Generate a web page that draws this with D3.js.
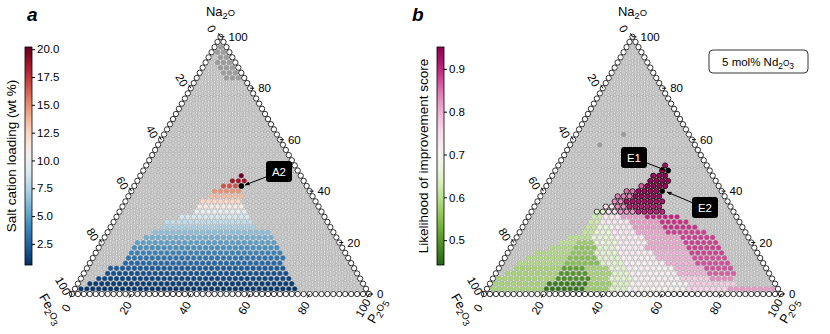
<!DOCTYPE html>
<html lang="en">
  <head>
    <meta charset="UTF-8"/>
    <title>Ternary maps</title>
    <script src="https://d3js.org/d3.v7.min.js"></script>
    <style>
      body { margin: 0; background: #fff; }
      text { font-family: "Liberation Sans", Arial, sans-serif; font-size: 11.5px; }
      .title { font-size: 13px; }
      .cblabel { font-size: 13.5px; }
      .panel { font-size: 19px; font-weight: bold; font-style: italic; }
    </style>
  </head>
  <body>
    <script>

      const N = 50                       // 2 mol% lattice
      const ticks = [0, 20, 40, 60, 80, 100]

      // panel a : one entry per Na2O row (row 1 = first interior row above the Fe2O3-P2O5 edge)
      const aRow  = [1, 2, 3, 4, 5, 6, 7, 8, 9, 10, 11, 12, 13, 14, 15, 16, 17, 18, 19, 20, 21, 22, 23]
      const aFrom = [1, 2, 3, 4, 4, 6, 6, 6, 6, 6, 7, 8, 9, 9, 11, 13, 13, 13, 14, 14, 15, 16, 17]
      const aTo   = [37, 36, 35, 34, 33, 32, 32, 31, 30, 29, 28, 27, 24, 23, 22, 21, 20, 19, 19, 18, 17, 18, 17]
      const aLoad = [0.8, 1.1, 1.4, 1.8, 2.2, 2.7, 3.2, 3.8, 4.4, 5.0, 5.7, 6.4, 7.2, 8.0, 8.9, 9.9, 11.0, 12.2, 13.4, 14.8, 16.6, 18.6, 20.0]
      const aMarked = [[21, 18, "A2"]]
      const aDark = [[48, 1, 1], [47, 1, 2], [46, 2, 3], [45, 2, 4], [44, 3, 5], [43, 4, 6], [42, 5, 7]]
      const aTicks = [2.5, 5.0, 7.5, 10.0, 12.5, 15.0, 17.5, 20.0]
      const aDomain = [0.6, 20.2]

      // panel b : [row, first column, last column, score]
      const bSeg = [
        [1, 1, 9, 0.58], [1, 10, 16, 0.46], [1, 17, 20, 0.57], [1, 21, 23, 0.64], [1, 24, 33, 0.70], [1, 34, 40, 0.76], [1, 41, 48, 0.82],
        [2, 1, 9, 0.58], [2, 10, 16, 0.47], [2, 17, 20, 0.57], [2, 21, 23, 0.64], [2, 24, 33, 0.70], [2, 34, 41, 0.77],
        [3, 1, 10, 0.58], [3, 11, 16, 0.49], [3, 17, 19, 0.58], [3, 20, 23, 0.65], [3, 24, 31, 0.71], [3, 32, 36, 0.77], [3, 37, 40, 0.83],
        [4, 2, 10, 0.58], [4, 11, 15, 0.50], [4, 16, 19, 0.58], [4, 20, 22, 0.65], [4, 23, 30, 0.71], [4, 31, 35, 0.80], [4, 36, 40, 0.86],
        [5, 3, 10, 0.58], [5, 11, 14, 0.51], [5, 15, 18, 0.58], [5, 19, 21, 0.65], [5, 22, 29, 0.71], [5, 30, 34, 0.80], [5, 35, 39, 0.87],
        [6, 3, 10, 0.59], [6, 11, 16, 0.55], [6, 17, 20, 0.65], [6, 21, 27, 0.71], [6, 28, 32, 0.80], [6, 33, 38, 0.87],
        [7, 4, 10, 0.59], [7, 11, 15, 0.55], [7, 16, 19, 0.65], [7, 20, 25, 0.71], [7, 26, 31, 0.80], [7, 32, 37, 0.87],
        [8, 5, 10, 0.59], [8, 11, 14, 0.56], [8, 15, 18, 0.65], [8, 19, 24, 0.72], [8, 25, 30, 0.80], [8, 31, 36, 0.88],
        [9, 7, 10, 0.59], [9, 11, 14, 0.56], [9, 15, 17, 0.65], [9, 18, 22, 0.72], [9, 23, 29, 0.81], [9, 30, 35, 0.88],
        [10, 8, 10, 0.60], [10, 11, 13, 0.57], [10, 14, 17, 0.66], [10, 18, 22, 0.72], [10, 23, 28, 0.81], [10, 29, 34, 0.88],
        [11, 9, 12, 0.60], [11, 13, 16, 0.66], [11, 17, 21, 0.72], [11, 22, 27, 0.81], [11, 28, 33, 0.88],
        [12, 11, 12, 0.61], [12, 13, 15, 0.66], [12, 16, 19, 0.73], [12, 20, 24, 0.81], [12, 25, 31, 0.88],
        [13, 11, 12, 0.61], [13, 13, 15, 0.67], [13, 16, 18, 0.73], [13, 19, 23, 0.82], [13, 24, 29, 0.89],
        [14, 11, 12, 0.62], [14, 13, 17, 0.73], [14, 18, 22, 0.82], [14, 23, 27, 0.89],
        [15, 11, 12, 0.62], [15, 13, 15, 0.73], [15, 16, 19, 0.82], [15, 20, 25, 0.90],
        [16, 11, 12, 0.65], [16, 13, 14, 0.73], [16, 15, 17, 0.82], [16, 18, 22, 0.90],
        [17, 12, 13, 0.73], [17, 14, 15, 0.83], [17, 16, 21, 0.91],
        [18, 13, 14, 0.83], [18, 15, 21, 0.92],
        [19, 13, 15, 0.84], [19, 16, 20, 0.93],
        [20, 14, 15, 0.85], [20, 16, 19, 0.93],
        [21, 16, 16, 0.86], [21, 17, 20, 0.94],
        [22, 17, 20, 0.94],
        [23, 17, 19, 0.94],
        [24, 18, 18, 0.94],
        [25, 18, 18, 0.93]
      ]
      const bRing = [16, 25]               // rows whose cells carry a black ring
      const bMarked = [[20, 20, "E2"], [24, 19, "E1"]]
      const bDark = [[29, 5, 5], [31, 8, 8]]
      const bTicks = [0.5, 0.6, 0.7, 0.8, 0.9]
      const bDomain = [0.442, 0.951]

      const side = 297, x0 = 72, yBase = 294, h = Math.sqrt(3) / 2
      const step = side / N

      const svg = d3.select("body").append("svg")
          .attr("width", 830)
          .attr("height", 334)

      const colorA = d3.scaleSequential(t => d3.interpolateRdBu(1 - t)).domain(aDomain)
      const colorB = d3.scaleSequential(t => d3.interpolatePiYG(1 - t)).domain(bDomain)

      const key = (r, c) => r + "," + c
      const aMap = new Map()
      aRow.forEach((r, i) => {
        for (let c = aFrom[i]; c <= aTo[i]; c++) aMap.set(key(r, c), aLoad[i])
      })
      const bMap = new Map()
      bSeg.forEach(([r, c0, c1, v]) => {
        for (let c = c0; c <= c1; c++) bMap.set(key(r, c), v)
      })
      const rangeSet = list => {
        const s = new Set()
        list.forEach(([r, c0, c1]) => { for (let c = c0; c <= c1; c++) s.add(key(r, c)) })
        return s
      }

      const sub = (sel, parts) => {
        parts.forEach(([t, s]) => {
          sel.append("tspan")
            .attr("font-size", s ? "0.72em" : null)
            .attr("dy", s === 1 ? 3 : s === -1 ? -3 : 0)
            .text(t)
        })
      }

      function ternary(ox, valueMap, color, marked, dark, ring) {
        const g = svg.append("g").attr("transform", `translate(${ox},0)`)
        const L = [x0, yBase], R = [x0 + side, yBase], T = [x0 + side / 2, yBase - side * h]
        const markSet = new Set(marked.map(d => key(d[0], d[1])))
        const darkSet = rangeSet(dark)

        g.append("path")
          .attr("d", `M${L}L${R}L${T}Z`)
          .attr("fill", "none")
          .attr("stroke", "#000")
          .attr("stroke-width", 0.8)

        const pts = []
        for (let r = 0; r <= N; r++) {
          for (let c = 0; c <= N - r; c++) {
            const k = key(r, c)
            pts.push({r, c, edge: r === 0 || c === 0 || c === N - r, v: valueMap.get(k),
                      mark: markSet.has(k), dark: darkSet.has(k)})
          }
        }
        const fill = d => d.edge ? "#fff" : d.mark ? "#000" : d.v !== undefined ? color(d.v)
                        : d.dark ? "#9d9d9d" : "#c9c9c9"
        const ringed = d => ring && d.v !== undefined && d.r >= ring[0] && d.r <= ring[1]
        g.append("g").selectAll("circle")
          .data(pts)
          .join("circle")
            .attr("cx", d => x0 + (d.c + d.r / 2) * step)
            .attr("cy", d => yBase - d.r * step * h)
            .attr("r", step * 0.45)
            .attr("fill", fill)
            .attr("stroke", d => d.edge || d.mark || ringed(d) ? "#000" : "#9a9a9a")
            .attr("stroke-width", d => d.edge ? 0.8 : ringed(d) ? 0.8 : 0.55)

        // right edge : Na2O
        ticks.forEach(v => {
          const f = v / 100
          const px = R[0] + (T[0] - R[0]) * f, py = R[1] + (T[1] - R[1]) * f
          g.append("line").attr("x1", px).attr("y1", py).attr("x2", px + 4).attr("y2", py).attr("stroke", "#000")
          g.append("text").attr("x", px + 8).attr("y", py).attr("dy", "0.35em").text(v)
        })
        // left edge : Fe2O3
        ticks.forEach(v => {
          const f = v / 100
          const px = T[0] + (L[0] - T[0]) * f, py = T[1] + (L[1] - T[1]) * f
          g.append("line").attr("x1", px).attr("y1", py).attr("x2", px - 2).attr("y2", py - 3.5).attr("stroke", "#000")
          g.append("text")
            .attr("transform", `translate(${px - 9},${py - 8}) rotate(60)`)
            .attr("text-anchor", "middle").attr("dy", "0.35em").text(v)
        })
        // bottom edge : P2O5
        ticks.forEach(v => {
          const f = v / 100
          const px = L[0] + (R[0] - L[0]) * f, py = L[1]
          g.append("line").attr("x1", px).attr("y1", py).attr("x2", px - 2).attr("y2", py + 3.5).attr("stroke", "#000")
          g.append("text")
            .attr("transform", `translate(${px - 6},${py + 14}) rotate(-60)`)
            .attr("text-anchor", "middle").attr("dy", "0.35em").text(v)
        })

        sub(g.append("text").attr("class", "title").attr("x", T[0]).attr("y", 16).attr("text-anchor", "middle"),
            [["Na", 0], ["2", 1], ["O", -1]])
        sub(g.append("text").attr("class", "title").attr("text-anchor", "middle")
              .attr("transform", `translate(${L[0] - 25},${L[1] + 17}) rotate(60)`),
            [["Fe", 0], ["2", 1], ["O", -1], ["3", 1]])
        sub(g.append("text").attr("class", "title").attr("text-anchor", "middle")
              .attr("transform", `translate(${R[0] + 12},${R[1] + 19}) rotate(-60)`),
            [["P", 0], ["2", 1], ["O", -1], ["5", 1]])
        return g
      }

      function colorbar(x, color, domain, tickVals, label, fmt, id) {
        const y = d3.scaleLinear().domain(domain).range([265, 47])
        const grad = svg.append("defs").append("linearGradient")
            .attr("id", id).attr("x1", 0).attr("x2", 0).attr("y1", 1).attr("y2", 0)
        d3.range(0, 1.001, 0.05).forEach(t => {
          grad.append("stop").attr("offset", t)
            .attr("stop-color", color(domain[0] + t * (domain[1] - domain[0])))
        })
        svg.append("rect").attr("x", x).attr("y", 47).attr("width", 7).attr("height", 218)
          .attr("fill", `url(#${id})`).attr("stroke", "#000").attr("stroke-width", 0.8)
        const ax = svg.append("g").attr("transform", `translate(${x + 7},0)`)
          .call(d3.axisRight(y).tickValues(tickVals).tickFormat(fmt).tickSize(3).tickPadding(2))
        ax.select(".domain").remove()
        ax.selectAll("text").attr("font-size", 11.5).attr("font-family", "Liberation Sans, Arial, sans-serif")
        svg.append("text").attr("class", "cblabel")
          .attr("transform", `translate(${x - 9},156) rotate(-90)`)
          .attr("text-anchor", "middle").text(label)
      }

      function callout(x, y, w, label, tx, ty) {
        svg.append("line").attr("x1", x).attr("y1", y).attr("x2", tx).attr("y2", ty)
          .attr("stroke", "#000").attr("stroke-width", 1).attr("marker-end", "url(#arr)")
        svg.append("rect").attr("x", x - w / 2).attr("y", y - 11).attr("width", w).attr("height", 21)
          .attr("rx", 3).attr("fill", "#000")
        svg.append("text").attr("x", x).attr("y", y).attr("dy", "0.35em").attr("text-anchor", "middle")
          .attr("fill", "#fff").attr("font-size", 13).text(label)
      }

      svg.append("defs").append("marker")
          .attr("id", "arr").attr("viewBox", "0 0 10 10").attr("refX", 9).attr("refY", 5)
          .attr("markerWidth", 5).attr("markerHeight", 5).attr("orient", "auto")
        .append("path").attr("d", "M0,1L10,5L0,9Z").attr("fill", "#000")

      ternary(0, aMap, colorA, aMarked, aDark, null)
      ternary(412, bMap, colorB, bMarked, bDark, bRing)

      colorbar(25, colorA, aDomain, aTicks, "Salt cation loading (wt %)", d3.format(".1f"), "gA")
      colorbar(437, colorB, bDomain, bTicks, "Likelihood of improvement score", d3.format(".1f"), "gB")

      svg.append("text").attr("class", "panel").attr("x", 27).attr("y", 21).text("a")
      svg.append("text").attr("class", "panel").attr("x", 412).attr("y", 21).text("b")

      callout(279, 172, 26, "A2", 245, 185)
      callout(634, 158, 26, "E1", 665, 170)
      callout(705, 208, 26, "E2", 667, 192)

      const box = svg.append("g")
      box.append("rect").attr("x", 709).attr("y", 50).attr("width", 99).attr("height", 23)
        .attr("rx", 4).attr("fill", "#fff").attr("stroke", "#000").attr("stroke-width", 0.8)
      sub(box.append("text").attr("x", 758).attr("y", 66).attr("text-anchor", "middle").attr("font-size", 13),
          [["5 mol% Nd", 0], ["2", 1], ["O", -1], ["3", 1]])

    </script>
  </body>
</html>
